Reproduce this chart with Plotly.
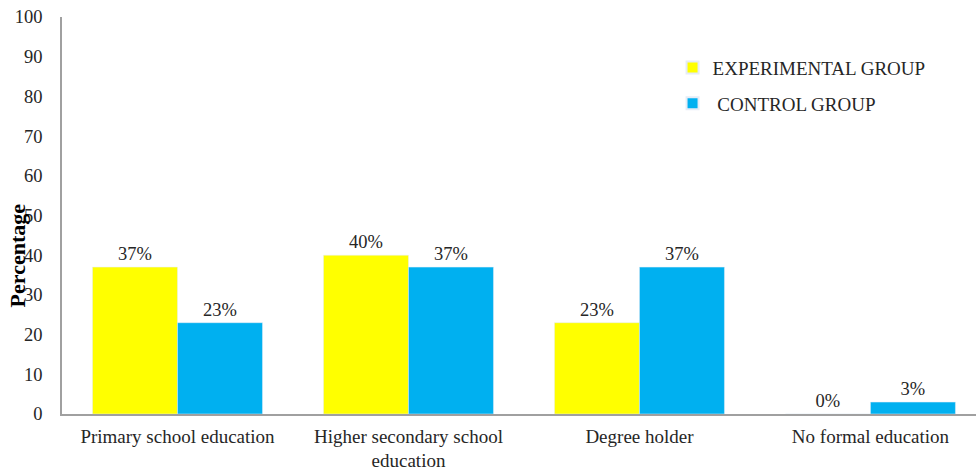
import plotly.graph_objects as go

categories = ["Primary school education", "Higher secondary school<br>education",
              "Degree holder", "No formal education"]
experimental = [37, 40, 23, 0]
control = [23, 37, 37, 3]

FONT = "'Liberation Serif', 'Times New Roman', 'DejaVu Serif', serif"
TXT = "#262626"

fig = go.Figure()
fig.add_trace(go.Bar(name="EXPERIMENTAL GROUP", x=categories, y=experimental, legendgroup="e",
                     marker_color="#FFFF00", texttemplate="%{y}%", textposition="outside",
                     textfont=dict(family=FONT, size=18.5, color=TXT), cliponaxis=False))
fig.add_trace(go.Bar(name=" CONTROL GROUP", x=categories, y=control, legendgroup="c",
                     marker_color="#00B0F0", texttemplate="%{y}%", textposition="outside",
                     textfont=dict(family=FONT, size=18.5, color=TXT), cliponaxis=False))

fig.update_layout(
    width=976, height=470,
    margin=dict(l=62, r=0, t=17, b=56),
    plot_bgcolor="white", paper_bgcolor="white",
    barmode="group", bargap=0.264, bargroupgap=0,
    font=dict(family=FONT, size=19, color=TXT),
    showlegend=True,
    legend=dict(x=0.668, y=0.92, xanchor="left", yanchor="top",
                font=dict(family=FONT, size=19, color=TXT),
                bgcolor="rgba(0,0,0,0)", itemsizing="constant", itemwidth=30,
                tracegroupgap=8),
    xaxis=dict(showline=True, linecolor="#a0a0a0", linewidth=1.5, ticks="",
               range=[-0.5, 3.457], ticklabelstandoff=4,
               tickfont=dict(family=FONT, size=19, color=TXT), showgrid=False),
    yaxis=dict(range=[0, 100], dtick=10, showline=True, linecolor="#a0a0a0", linewidth=1.5,
               ticks="", showgrid=False, zeroline=False, ticklabelstandoff=14,
               tickfont=dict(family=FONT, size=18.5, color=TXT)),
)
fig.add_annotation(text="<b>Percentage</b>", xref="paper", yref="paper",
                   x=-0.049, y=0.40, textangle=-90, showarrow=False,
                   xanchor="center", yanchor="middle",
                   font=dict(family=FONT, size=22, color="black"))

fig.write_html("out.html")
